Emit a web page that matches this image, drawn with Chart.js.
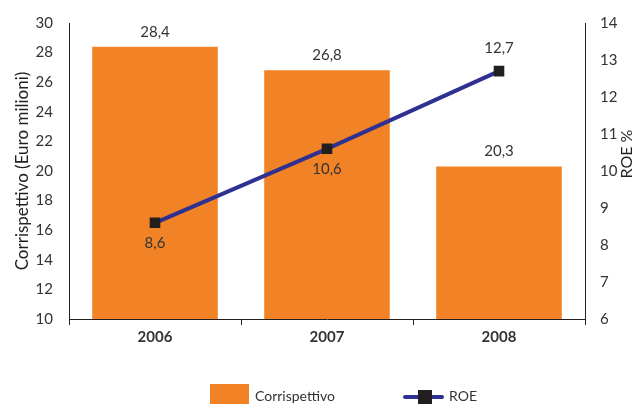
<!DOCTYPE html>
<html>
<head>
<meta charset="utf-8">
<script src="https://cdn.jsdelivr.net/npm/chart.js@4.4.0/dist/chart.umd.min.js"></script>
<style>
  html, body { margin: 0; padding: 0; background: #fff; }
  #wrap { width: 633px; height: 408px; }
</style>
</head>
<body>
<div id="wrap"><canvas id="chart" width="633" height="408"></canvas></div>
<script>
// dati
const years = ['2006', '2007', '2008'];
const corrispettivo = [28.4, 26.8, 20.3];
const roe = [8.6, 10.6, 12.7];
const roeLabelAbove = [false, false, true];

const FONT = 'Lato, "Open Sans", sans-serif';
const TEXT = '#333333';
const fmt = v => v.toFixed(1).replace('.', ',');

// etichette valori, titolo asse destro e legenda
const labelsPlugin = {
    id: 'labels',
    afterDatasetsDraw(chart) {
        const ctx = chart.ctx;
        ctx.save();
        ctx.font = '15px ' + FONT;
        ctx.fillStyle = TEXT;
        ctx.textAlign = 'center';
        ctx.textBaseline = 'middle';
        chart.getDatasetMeta(0).data.forEach((bar, i) => {
            ctx.fillText(fmt(corrispettivo[i]), bar.x, bar.y - 15);
        });
        chart.getDatasetMeta(1).data.forEach((pt, i) => {
            const dy = roeLabelAbove[i] ? -23 : 20;
            ctx.fillText(fmt(roe[i]), pt.x, pt.y + dy);
        });

        // titolo asse ROE (letto dal basso verso l'alto)
        ctx.save();
        ctx.translate(627, 154);
        ctx.rotate(-Math.PI / 2);
        ctx.font = '16px ' + FONT;
        ctx.fillStyle = '#231F20';
        ctx.fillText('ROE %', 0, 0);
        ctx.restore();

        // legenda
        ctx.fillStyle = '#F28226';
        ctx.fillRect(210, 384, 39, 20);
        ctx.fillStyle = TEXT;
        ctx.textAlign = 'left';
        ctx.font = '14px ' + FONT;
        ctx.fillText('Corrispettivo', 255, 396);
        ctx.strokeStyle = '#2E3192';
        ctx.lineWidth = 4;
        ctx.lineCap = 'round';
        ctx.beginPath();
        ctx.moveTo(405, 397);
        ctx.lineTo(442, 397);
        ctx.stroke();
        ctx.fillStyle = '#231F20';
        ctx.fillRect(418, 390, 14, 14);
        ctx.fillStyle = TEXT;
        ctx.fillText('ROE', 449, 396);
        ctx.restore();
    }
};

new Chart(document.getElementById('chart'), {
    data: {
        labels: years,
        datasets: [{
            type: 'bar',
            label: 'Corrispettivo',
            data: corrispettivo,
            backgroundColor: '#F28226',
            categoryPercentage: 1,
            barPercentage: 0.73,
            yAxisID: 'y',
            order: 2
        }, {
            type: 'line',
            label: 'ROE',
            data: roe,
            borderColor: '#2E3192',
            borderWidth: 4,
            pointStyle: 'rect',
            pointRadius: 7.5,
            pointBackgroundColor: '#231F20',
            pointBorderColor: '#231F20',
            pointBorderWidth: 0,
            yAxisID: 'y1',
            order: 1
        }]
    },
    options: {
        responsive: false,
        animation: false,
        layout: { padding: { top: 23, bottom: 59, left: 0, right: 0 } },
        plugins: {
            legend: { display: false },
            tooltip: { enabled: false }
        },
        scales: {
            x: {
                offset: true,
                afterFit: s => { s.height = 30; },
                grid: {
                    display: true,
                    offset: true,
                    drawOnChartArea: false,
                    drawTicks: true,
                    tickLength: 6,
                    color: '#231F20'
                },
                border: { display: true, color: '#231F20', width: 1 },
                ticks: {
                    color: TEXT,
                    padding: 3,
                    font: { family: FONT, size: 15, weight: 'bold' }
                }
            },
            y: {
                position: 'left',
                min: 10,
                max: 30,
                afterFit: s => { s.width = 69; },
                grid: { display: false },
                border: { display: true, color: '#231F20', width: 1 },
                ticks: {
                    stepSize: 2,
                    color: TEXT,
                    padding: 8,
                    font: { family: FONT, size: 15 }
                },
                title: {
                    display: true,
                    text: 'Corrispettivo (Euro milioni)',
                    color: '#231F20',
                    padding: { top: 12, bottom: 0 },
                    font: { family: FONT, size: 17 }
                }
            },
            y1: {
                position: 'right',
                min: 6,
                max: 14,
                afterFit: s => { s.width = 48; },
                grid: { display: false },
                border: { display: true, color: '#231F20', width: 1 },
                ticks: {
                    stepSize: 1,
                    color: TEXT,
                    padding: 7,
                    font: { family: FONT, size: 15 }
                }
            }
        }
    },
    plugins: [labelsPlugin]
});
</script>
</body>
</html>
